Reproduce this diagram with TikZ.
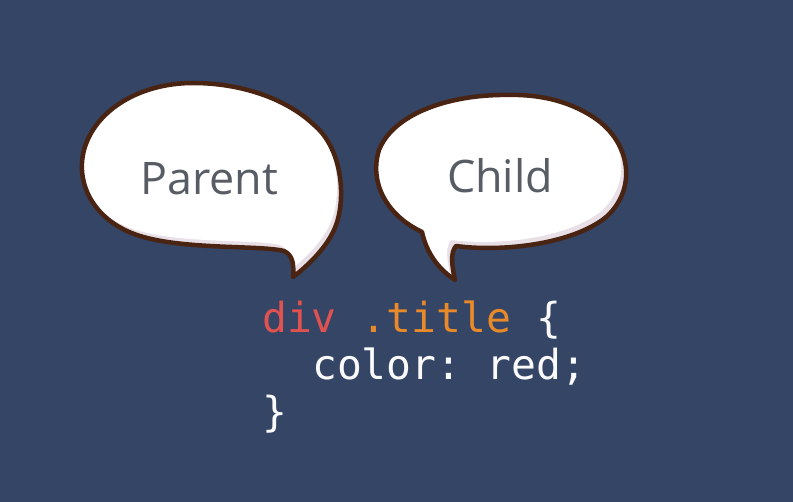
\documentclass[tikz,border=0pt]{standalone}
\usepackage{fontspec}
\setmainfont{Open Sans}
\setmonofont{DejaVu Sans Mono}
\usetikzlibrary{positioning}
\definecolor{bgBlue}{RGB}{52,69,102}
\definecolor{bubbleLine}{RGB}{74,36,18}
\definecolor{bubbleShade}{RGB}{232,224,230}
\definecolor{labelGray}{RGB}{88,92,100}
\definecolor{codeRed}{RGB}{224,82,80}
\definecolor{codeOrange}{RGB}{232,137,42}
\definecolor{codeWhite}{RGB}{250,250,250}
\tikzstyle{bubble} = [line width=4.5bp, draw=bubbleLine, line join=round]
\tikzstyle{bubbleText} = [anchor=base, inner sep=0pt, text=labelGray, font=\fontsize{45}{50}\selectfont]
\tikzstyle{codeLine} = [anchor=base west, inner sep=0pt, text=codeWhite, font=\ttfamily\fontsize{41.5}{48}\selectfont]
% outlines of the two speech bubbles, tail tip first
\newcommand{\parentOutline}{(293,277) .. controls (305,268) and (325,250) .. (334,230)
    .. controls (346,205) and (345,150) .. (313,124)
    .. controls (285,98) and (240,83) .. (193,83)
    .. controls (140,83) and (95,110) .. (84,150)
    .. controls (75,185) and (95,222) .. (140,236)
    .. controls (185,250) and (260,245) .. (284,251)
    .. controls (293,255) and (294,265) .. (293,277)}
\newcommand{\childOutline}{(455,280) .. controls (452,266) and (450,253) .. (456,246)
    .. controls (500,252) and (570,245) .. (605,218)
    .. controls (638,190) and (632,140) .. (590,115)
    .. controls (560,97) and (530,94) .. (500,95)
    .. controls (445,96) and (393,115) .. (379,150)
    .. controls (369,182) and (386,215) .. (422,232)
    .. controls (427,255) and (440,270) .. (455,280)}

\begin{document}
\begin{tikzpicture}[x=1bp, y=-1bp]
    \fill[bgBlue] (0,0) rectangle (793,502);

    % parent bubble
    \begin{scope}
        \clip \parentOutline -- cycle;
        \fill[bubbleShade] \parentOutline -- cycle;
        \fill[white, shift={(-4,-6)}] \parentOutline -- cycle;
    \end{scope}
    \draw[bubble] \parentOutline -- cycle;

    % child bubble
    \begin{scope}
        \clip \childOutline -- cycle;
        \fill[bubbleShade] \childOutline -- cycle;
        \fill[white, shift={(-5,-6)}] \childOutline -- cycle;
    \end{scope}
    \draw[bubble] \childOutline -- cycle;

    \node (parent) [bubbleText] at (209,195) {Parent};
    \node (child) [bubbleText] at (500,193) {Child};

    % css rule
    \node (line1) [codeLine] at (262,332) {\textcolor{codeRed}{div} \textcolor{codeOrange}{.title} \{};
    \node (line2) [codeLine] at (312,379) {color: red;};
    \node (line3) [codeLine] at (262,426) {\}};
\end{tikzpicture}
\end{document}
